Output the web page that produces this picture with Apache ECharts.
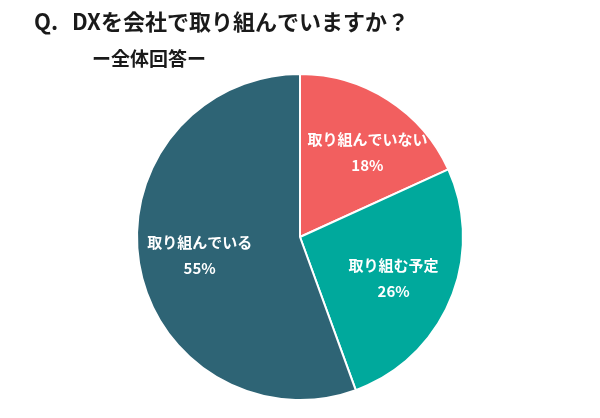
<!DOCTYPE html>
<html><head><meta charset="utf-8">
<script src="https://cdn.jsdelivr.net/npm/echarts@6/dist/echarts.min.js"></script>
<style>html,body{margin:0;padding:0;background:#fff}#c{width:600px;height:418px}</style>
</head><body><div id="c"></div>
<script>
const categories = ['取り組んでいない', '取り組む予定', '取り組んでいる'];
const values = [18, 26, 55];
const colors = ['#f25f5f', '#00a99c', '#2e6475'];
const titleQ = 'Q.';
const titleText = 'DXを会社で取り組んでいますか？';
const subtitleText = 'ー全体回答ー';

const font = '"Noto Sans CJK JP", "Noto Sans", sans-serif';
const labelOffsets = [[9, 6], [-6, 0], [6, 0]];
const data = categories.map((n, i) => ({ name: n, value: values[i], itemStyle: { color: colors[i] } }));
const labelData = categories.map((n, i) => ({ name: n, value: values[i], label: { offset: labelOffsets[i] } }));

const chart = echarts.init(document.getElementById('c'));
chart.setOption({
  backgroundColor: '#fff',
  animation: false,
  graphic: [
    { type: 'text', left: 34, top: 11, style: { text: titleQ, font: 'bold 22px ' + font, fill: '#1a1a1a' } },
    { type: 'text', left: 72, top: 11, style: { text: titleText, font: 'bold 22px ' + font, fill: '#1a1a1a' } },
    { type: 'text', left: 92, top: 49, style: { text: subtitleText, font: 'bold 19px ' + font, fill: '#1a1a1a' } }
  ],
  series: [
    {
      type: 'pie', center: [300, 237], radius: [0, 163], startAngle: 90, clockwise: true,
      silent: true, label: { show: false }, labelLine: { show: false },
      itemStyle: { borderColor: '#fff', borderWidth: 2 },
      data: data
    },
    {
      type: 'pie', center: [300, 237], radius: [47, 163], startAngle: 90, clockwise: true,
      silent: true, itemStyle: { color: 'rgba(0,0,0,0)' },
      label: {
        show: true, position: 'inside', color: '#fff', fontFamily: font, fontWeight: 'bold',
        fontSize: 15, lineHeight: 26, formatter: p => p.name + '\n' + p.value + '%'
      },
      labelLine: { show: false },
      data: labelData
    }
  ]
});
</script></body></html>
